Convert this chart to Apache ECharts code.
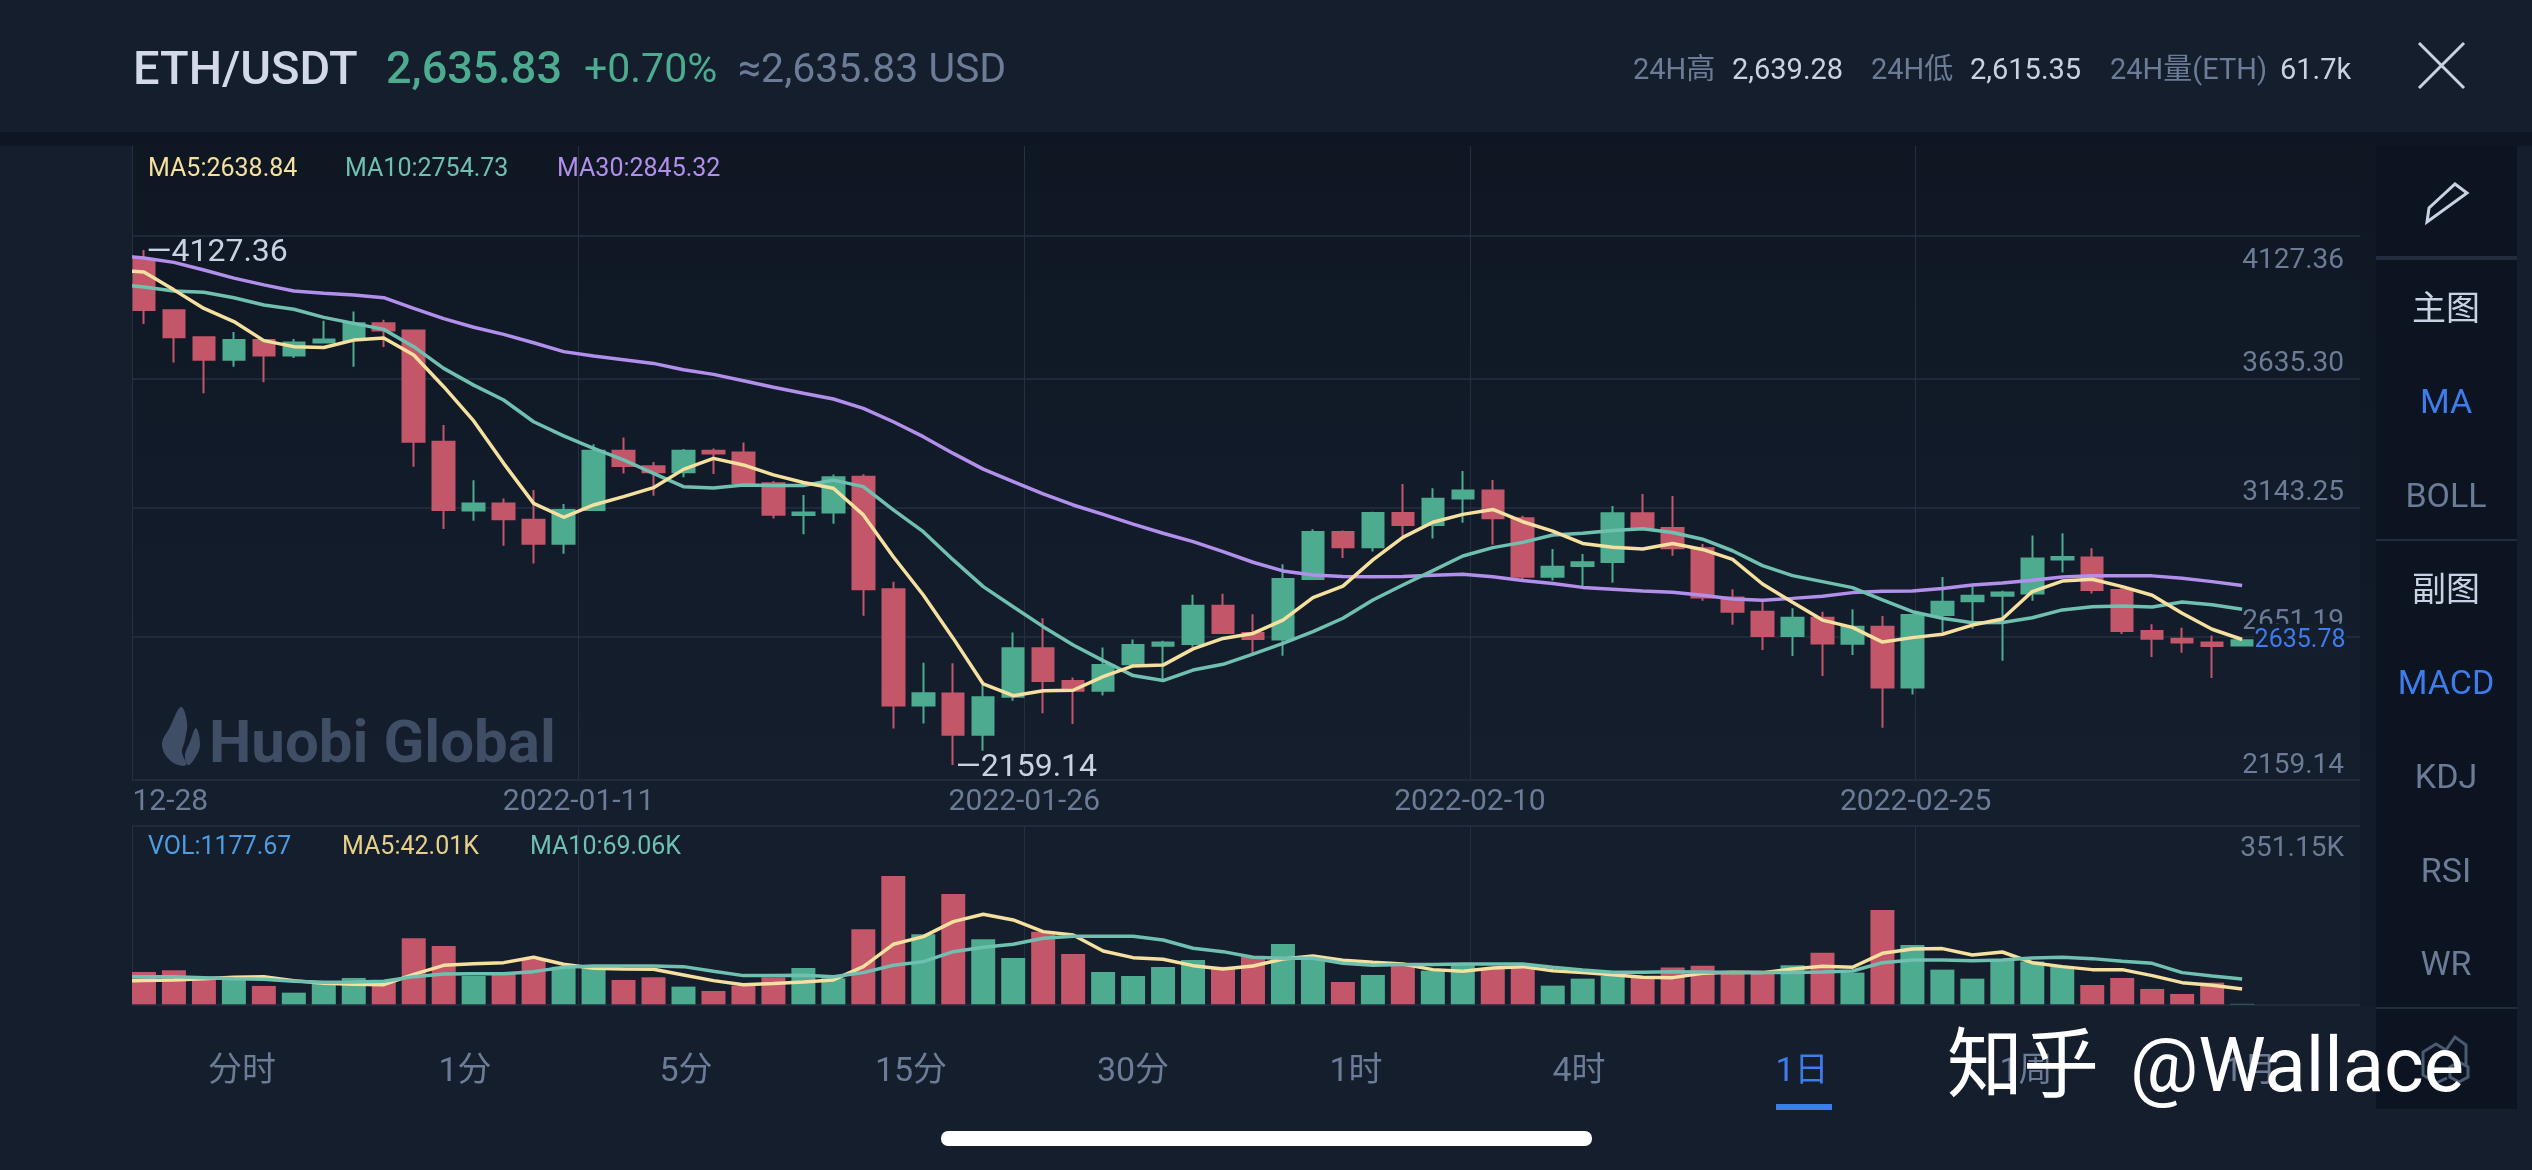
<!DOCTYPE html>
<html>
<head>
<meta charset="utf-8">
<title>ETH/USDT</title>
<style>
  html, body { margin: 0; padding: 0; background: #141e2d; }
  #chart { width: 2532px; height: 1170px; }
</style>
<script src="https://cdn.jsdelivr.net/npm/echarts@6/dist/echarts.min.js"></script>
</head>
<body>
<div id="chart"></div>
<script>
// open, close, low, high
const candles = [
  [4092, 3898, 3845, 4127.36], [3897, 3794, 3697, 3899], [3794, 3708, 3580, 3796], [3708, 3783, 3681, 3814],
  [3783, 3724, 3622, 3786], [3724, 3774, 3715, 3787], [3774, 3785, 3771, 3857], [3783, 3847, 3681, 3892],
  [3847, 3820, 3757, 3861], [3820, 3395, 3299, 3822], [3395, 3134, 3061, 3459], [3132, 3159, 3093, 3247],
  [3159, 3098, 2997, 3178], [3096, 3005, 2929, 3210], [3005, 3134, 2967, 3157], [3134, 3360, 3131, 3385],
  [3360, 3302, 3273, 3411], [3301, 3278, 3188, 3317], [3278, 3360, 3259, 3367], [3360, 3350, 3271, 3369],
  [3353, 3237, 3236, 3392], [3236, 3116, 3101, 3245], [3115, 3124, 3041, 3191], [3124, 3259, 3081, 3269],
  [3261, 2831, 2730, 3270], [2831, 2387, 2299, 2860], [2387, 2433, 2318, 2550], [2432, 2275, 2159.14, 2548],
  [2275, 2418, 2214, 2465], [2420, 2605, 2405, 2666], [2605, 2480, 2357, 2720], [2480, 2443, 2316, 2494],
  [2443, 2541, 2425, 2608], [2544, 2618, 2541, 2639], [2615, 2627, 2481, 2634], [2622, 2768, 2611, 2810],
  [2768, 2664, 2660, 2814], [2664, 2641, 2586, 2735], [2639, 2870, 2577, 2926], [2870, 3050, 2869, 3060],
  [3050, 2991, 2950, 3055], [2991, 3122, 2975, 3127], [3122, 3076, 3029, 3233], [3076, 3177, 3025, 3217],
  [3178, 3208, 3085, 3283], [3208, 3102, 3001, 3248], [3102, 2879, 2864, 3112], [2879, 2917, 2864, 2985],
  [2920, 2934, 2832, 2966], [2935, 3121, 2856, 3149], [3121, 3065, 3062, 3195], [3065, 2988, 2959, 3187],
  [2988, 2799, 2787, 3004], [2799, 2745, 2695, 2831], [2745, 2652, 2599, 2790], [2652, 2722, 2576, 2758],
  [2722, 2624, 2499, 2745], [2623, 2688, 2580, 2754], [2688, 2455, 2302, 2729], [2455, 2732, 2429, 2736],
  [2732, 2783, 2667, 2878], [2785, 2806, 2680, 2850], [2806, 2818, 2558, 2825], [2815, 2948, 2787, 3036],
  [2945, 2954, 2895, 3045], [2952, 2828, 2815, 2988], [2828, 2671, 2660, 2838], [2671, 2642, 2572, 2697],
  [2642, 2627, 2588, 2684], [2627, 2614, 2492, 2654], [2616, 2635.78, 2615, 2639]
]
// the MA arrays start one day before the first candle, that day is cut off by the panel edge
const ma5 = [
  4051, 4043, 3975, 3904, 3854, 3781, 3758, 3755, 3783, 3791, 3726, 3605, 3474, 3312, 3159, 3106, 3153, 3185,
  3219, 3289, 3331, 3306, 3268, 3239, 3217, 3115, 2955, 2809, 2643, 2469, 2424, 2443, 2445, 2497, 2538, 2541,
  2603, 2643, 2662, 2713, 2799, 2843, 2943, 3029, 3087, 3117, 3136, 3089, 3053, 3006, 2991, 2985, 3006, 2983,
  2945, 2851, 2781, 2713, 2685, 2629, 2646, 2659, 2694, 2717, 2822, 2862, 2869, 2841, 2808, 2739, 2678, 2638.84
]
const ma10 = [
  3997, 3986, 3971, 3966, 3945, 3917, 3901, 3870, 3847, 3824, 3758, 3675, 3611, 3554, 3471, 3417, 3369, 3325,
  3274, 3223, 3218, 3229, 3227, 3227, 3248, 3223, 3134, 3051, 2943, 2841, 2764, 2688, 2618, 2558, 2501, 2482,
  2522, 2544, 2583, 2624, 2669, 2720, 2790, 2847, 2902, 2958, 2990, 3010, 3038, 3045, 3055, 3062, 3048, 3022,
  2978, 2921, 2883, 2860, 2837, 2790, 2745, 2720, 2703, 2704, 2722, 2752, 2764, 2767, 2763, 2782, 2772, 2754.73
]
const ma30 = [
  4107, 4097, 4080, 4051, 4020, 3994, 3971, 3962, 3955, 3945, 3904, 3865, 3832, 3805, 3773, 3739, 3722, 3708,
  3694, 3670, 3652, 3628, 3603, 3580, 3558, 3522, 3471, 3414, 3350, 3290, 3242, 3195, 3153, 3117, 3080, 3045,
  3013, 2975, 2934, 2901, 2885, 2880, 2879, 2880, 2884, 2888, 2879, 2864, 2853, 2838, 2831, 2824, 2819, 2808,
  2794, 2789, 2796, 2804, 2818, 2823, 2824, 2834, 2847, 2855, 2865, 2878, 2882, 2882, 2882, 2873, 2860, 2845.32
]
// volume in K
const volumes = [
  88.5, 93.1, 68.4, 68.4, 50.2, 31.9, 60.2, 72.1, 60.2, 180.6, 159.7, 77.5, 83, 123.2, 103.1, 98.5, 66.6, 73.9,
  48.4, 36.5, 51.1, 73.9, 99.4, 71.2, 205.3, 351.15, 191.6, 302, 177.9, 126.8, 198.9, 137.8, 88.5, 77.5, 102.2,
  121.3, 103.1, 130.5, 165.1, 125.9, 61.1, 80.3, 105.8, 92.1, 107.7, 98.5, 105.8, 51.1, 70.2, 77.5, 73.9, 100.4,
  105.8, 86.7, 86.7, 106.7, 141.4, 86.7, 258.2, 162.4, 94.9, 70.2, 123.2, 116.8, 103.1, 52.9, 72.1, 42, 28.3, 59.3, 1.18
]
const volMa5 = [
  63, 64.8, 66.6, 70.2, 73.9, 75.7, 64.8, 57.5, 54.7, 53.8, 82.1, 106.7, 111.3, 114, 128.6, 109.5, 98.5, 96.7,
  95.8, 80.3, 64.8, 53.8, 56.6, 61.1, 66.6, 103.1, 164.2, 185.2, 226.3, 246.3, 230.8, 198.9, 189.8, 146, 127.7,
  123.2, 105.8, 96.7, 104.9, 124.1, 132.3, 120.4, 115, 110.4, 94.9, 90.3, 99.4, 103.1, 92.1, 86.7, 81.2, 73.9,
  73, 84.8, 87.6, 86.7, 96.7, 104, 101.3, 139.6, 151.4, 152.4, 135, 143.2, 114, 103.1, 94.9, 94.9, 78.5, 59.3, 52, 42.01
]
const volMa10 = [
  75.7, 75.7, 75.7, 73, 70.2, 68.4, 62.9, 60.2, 61.1, 62.9, 75.7, 83, 83.9, 83.9, 89.4, 101.3, 104.9, 104.9,
  104.9, 103.1, 90.3, 78.5, 78.5, 79.4, 75.7, 86.7, 106.7, 116.8, 144.1, 156, 164.2, 180.6, 186.1, 186.1, 186.1,
  176.1, 153.3, 144.1, 128.6, 125.9, 125.9, 112.2, 106.7, 108.6, 108.6, 110.4, 110.4, 110.4, 101.3, 94, 87.6, 87.6,
  89.4, 88.5, 86.7, 86.7, 86.7, 88.5, 91.2, 114, 121.3, 121.3, 119.5, 121.3, 126.8, 128.6, 125, 117.7, 112.2, 86.7, 77.5, 69.06
]

const priceGridValues = [4180.9, 3635.3, 3143.25, 2651.19, 2101.9]
const priceLabelValues = [4087, 3692, 3198, 2706, 2157]
const priceLabels = ['4127.36', '3635.30', '3143.25', '2651.19', '2159.14']
const volGridValues = [0, 488]
const volLabelValues = [425]
const volLabels = ['351.15K']
// vertical lines and date labels, counted in day slots from the left of the axis
const dateTickValues = [1.11, 16, 30.87, 45.74, 60.61]
const dateLabels = ['12-28', '2022-01-11', '2022-01-26', '2022-02-10', '2022-02-25']
const tabs = ['分时', '1分', '5分', '15分', '30分', '1时', '4时', '1日', '1周', '1月']
const mainTabs = ['MA', 'BOLL']
const subTabs = ['MACD', 'KDJ', 'RSI', 'WR']

const GREEN = '#4dab8f'
const RED = '#c4566a'
const MA5_COLOR = '#f5e09f'
const MA10_COLOR = '#6fc0b0'
const MA30_COLOR = '#b38fec'
const GRID_LINE = '#262f42'
const MUTED = '#6c7b96'
const LIGHT = '#c9d2e3'
const BLUE = '#3f7ceb'
const BG = '#141e2d'
const RAIL = '#0b1420'
const FONT = "Roboto, 'Noto Sans CJK SC'"

const slots = 76
const categories = []
for (let i = 0; i < slots; i++) {
  const d = new Date(Date.UTC(2021, 11, 27 + i))
  categories.push(d.toISOString().slice(5, 10))
}

const chart = echarts.init(document.getElementById('chart'))

// glyphs sit a bit high in the box, y + 4 centres them on y
const text = (str, x, y, size, fill, opt) => ({
  type: 'text',
  z: 60,
  style: Object.assign({
    text: str, x, y: y + 4, fill,
    font: size + 'px ' + FONT,
    align: 'left',
    verticalAlign: 'middle',
  }, opt),
})
const rect = (x, y, width, height, fill, z) => ({
  type: 'rect',
  z: z === undefined ? -10 : z,
  shape: { x, y, width, height },
  style: { fill },
})
const lineEl = (x1, y1, x2, y2, stroke, lineWidth) => ({
  type: 'line',
  z: 60,
  shape: { x1, y1, x2, y2 },
  style: { stroke, lineWidth },
})
const MARK_SHADOW = { shadowColor: 'rgba(0,0,0,0.8)', shadowOffsetX: 3, shadowOffsetY: 3, shadowBlur: 2 }

const graphics = [
  // backgrounds
  rect(0, 132, 2532, 14, '#0d1622'),
  rect(132, 146, 2228, 634, new echarts.graphic.LinearGradient(0, 0, 0, 1, [
    { offset: 0, color: '#0f1723' },
    { offset: 0.55, color: '#121b29' },
    { offset: 1, color: BG },
  ])),
  // trim the axes at the panel edges
  rect(99, 146, 33, 860, BG, 50),
  rect(2360, 146, 17, 860, new echarts.graphic.LinearGradient(0, 0, 0, 1, [
    { offset: 0, color: '#0f1723' },
    { offset: 1, color: '#121c2b' },
  ]), 50),
  rect(2376, 146, 141, 963, RAIL, 51),
  rect(2376, 256, 141, 4, '#222c3e', 52),
  rect(2376, 539, 141, 2, '#222c3e', 52),
  rect(2376, 1007, 141, 2, '#222c3e', 52),
  // header
  text('ETH/USDT', 133, 68, 47, '#d3d9e8', { font: '500 47px ' + FONT }),
  text('2,635.83', 386, 68, 45, GREEN, { font: '500 45px ' + FONT }),
  text('+0.70%', 584, 68, 41, GREEN),
  text('≈2,635.83 USD', 738, 68, 41, MUTED),
  text('24H高', 1633, 68, 29, MUTED),
  text('2,639.28', 1732, 68, 29, LIGHT),
  text('24H低', 1871, 68, 29, MUTED),
  text('2,615.35', 1970, 68, 29, LIGHT),
  text('24H量(ETH)', 2110, 68, 29, MUTED),
  text('61.7k', 2280, 68, 29, LIGHT),
  lineEl(2419, 43, 2464, 88, LIGHT, 3),
  lineEl(2464, 43, 2419, 88, LIGHT, 3),
  // legends
  text('MA5:2638.84', 148, 166, 25, MA5_COLOR),
  text('MA10:2754.73', 345, 166, 25, MA10_COLOR),
  text('MA30:2845.32', 557, 166, 25, MA30_COLOR),
  text('VOL:1177.67', 148, 844, 25, '#4d9de0'),
  text('MA5:42.01K', 342, 844, 25, '#e8d08a'),
  text('MA10:69.06K', 530, 844, 25, MA10_COLOR),
  // Huobi mark
  {
    type: 'polygon',
    z: 1,
    shape: { smooth: 0.4, points: [[181, 707], [187, 722], [185, 740], [182, 752], [186, 765], [172, 762], [162, 745], [170, 727]] },
    style: { fill: '#3f4d65' },
  },
  {
    type: 'polygon',
    z: 1,
    shape: { smooth: 0.4, points: [[196, 728], [200, 745], [195, 758], [188, 765], [185, 755], [190, 742]] },
    style: { fill: '#3f4d65' },
  },
  text('Huobi Global', 209, 743, 60, '#3f4d65', { font: '700 60px ' + FONT }),
  // rail
  {
    type: 'polygon',
    z: 60,
    shape: { points: [[2455, 184], [2467, 193], [2427, 222], [2429, 208]] },
    style: { fill: 'none', stroke: LIGHT, lineWidth: 3 },
  },
  text('主图', 2446, 307, 34, LIGHT, { align: 'center' }),
  text('副图', 2446, 588, 34, LIGHT, { align: 'center' }),
  {
    type: 'polyline',
    z: 60,
    shape: { points: [[2447, 1078], [2436, 1083], [2423, 1075], [2423, 1052], [2436, 1044], [2446, 1050], [2455, 1037], [2466, 1045], [2466, 1066]] },
    style: { fill: 'none', stroke: '#4a5a72', lineWidth: 3 },
  },
  {
    type: 'polygon',
    z: 60,
    shape: { points: [[2459, 1062], [2468, 1067], [2468, 1077], [2459, 1082], [2450, 1077], [2450, 1067]] },
    style: { fill: 'none', stroke: '#4a5a72', lineWidth: 3 },
  },
  // tab underline and home bar
  rect(1776, 1104, 56, 6, BLUE, 60),
  {
    type: 'rect',
    z: 60,
    shape: { x: 941, y: 1131, width: 651, height: 15, r: 7 },
    style: { fill: '#fff' },
  },
]

const tabX = [242, 465, 686, 911, 1133, 1356, 1579, 1802, 2026, 2250]
tabs.forEach((t, i) => {
  graphics.push(text(t, tabX[i], 1068, 34, t === '1日' ? BLUE : MUTED, { align: 'center' }))
})
const mainTabY = [400, 494]
mainTabs.forEach((t, i) => {
  graphics.push(text(t, 2446, mainTabY[i], 34, t === 'MA' ? BLUE : MUTED, { align: 'center' }))
})
const subTabY = [681, 775, 869, 962]
subTabs.forEach((t, i) => {
  graphics.push(text(t, 2446, subTabY[i], 34, t === 'MACD' ? BLUE : MUTED, { align: 'center' }))
})
// zhihu watermark goes over the tabs and the rail icon
const zhihu = text('知乎', 1947, 1068, 76, '#fff', MARK_SHADOW)
const wallace = text('@Wallace', 2130, 1068, 76, '#fff', MARK_SHADOW)
zhihu.z = 70
wallace.z = 70
graphics.push(zhihu, wallace)

const line = (name, data, color, xAxisIndex, yAxisIndex) => ({
  name,
  type: 'line',
  xAxisIndex,
  yAxisIndex,
  data,
  symbol: 'none',
  silent: true,
  lineStyle: { color, width: 3.5 },
  z: 4,
})
const tag = (coord, str, color, size, extra) => ({
  coord,
  symbol: 'circle',
  symbolSize: 1,
  itemStyle: { color: 'transparent' },
  label: Object.assign({
    show: true,
    position: 'right',
    distance: 2,
    offset: [0, 3],
    formatter: str,
    color,
    fontSize: size,
    fontFamily: FONT,
  }, extra),
})

const dayAxis = (gridIndex) => ({
  type: 'category',
  gridIndex,
  data: categories,
  show: false,
})
const tickAxis = (gridIndex, showLabel) => ({
  type: 'value',
  gridIndex,
  min: 0,
  max: slots,
  position: 'bottom',
  axisLine: { show: false },
  axisTick: { show: false, customValues: dateTickValues },
  axisLabel: {
    show: showLabel,
    customValues: dateTickValues,
    margin: 7,
    color: MUTED,
    fontSize: 30,
    fontFamily: FONT,
    formatter: (v) => {
      const i = dateTickValues.indexOf(v)
      return i === 0 ? '{first|' + dateLabels[i] + '}' : dateLabels[i]
    },
    rich: {
      first: { padding: [0, 0, 0, 76], color: MUTED, fontSize: 30, fontFamily: FONT },
    },
  },
  splitLine: { show: true, lineStyle: { color: GRID_LINE, width: 1 } },
})
const valueAxis = (gridIndex, min, max, gridValues, labelValues, labels) => ({
  type: 'value',
  gridIndex,
  min,
  max,
  position: 'right',
  axisLine: { show: false },
  axisTick: { show: false, customValues: gridValues },
  axisLabel: {
    inside: true,
    margin: 33,
    customValues: labelValues,
    color: MUTED,
    fontSize: 28,
    fontFamily: FONT,
    formatter: (v) => labels[labelValues.indexOf(v)],
  },
  splitLine: { show: true, lineStyle: { color: GRID_LINE, width: 1.5 } },
})

const option = {
  backgroundColor: BG,
  animation: false,
  graphic: { elements: graphics },
  grid: [
    { left: 99, right: 155, top: 146, height: 634 },
    { left: 99, right: 155, top: 826, height: 178.3 },
  ],
  xAxis: [dayAxis(0), tickAxis(0, true), dayAxis(1), tickAxis(1, false)],
  yAxis: [
    valueAxis(0, 2101.9, 4524.8, priceGridValues, priceLabelValues, priceLabels),
    valueAxis(1, 0, 488, volGridValues, volLabelValues, volLabels),
  ],
  series: [
    {
      name: 'K',
      type: 'candlestick',
      xAxisIndex: 0,
      yAxisIndex: 0,
      barWidth: 22,
      data: ['-'].concat(candles),
      itemStyle: { color: GREEN, color0: RED, borderColor: GREEN, borderColor0: RED, borderWidth: 2 },
      markPoint: {
        silent: true,
        data: [
          tag([1, 4127.36], '—4127.36', LIGHT, 32),
          tag([28, 2159.14], '—2159.14', LIGHT, 32),
          tag([71, 2635.78], '2635.78', BLUE, 25, { distance: 12, offset: [0, 0], backgroundColor: BG, padding: [8, 0, 0, 0] }),
        ],
      },
    },
    line('MA30', ma30, MA30_COLOR, 0, 0),
    line('MA10', ma10, MA10_COLOR, 0, 0),
    line('MA5', ma5, MA5_COLOR, 0, 0),
    {
      name: 'VOL',
      type: 'bar',
      xAxisIndex: 2,
      yAxisIndex: 1,
      barWidth: 24,
      data: [null].concat(volumes.map((v, i) => ({
        value: v,
        itemStyle: { color: candles[i][1] >= candles[i][0] ? GREEN : RED },
      }))),
    },
    line('VOL MA5', volMa5, MA5_COLOR, 2, 1),
    line('VOL MA10', volMa10, MA10_COLOR, 2, 1),
  ],
}
chart.setOption(option)
</script>
</body>
</html>
